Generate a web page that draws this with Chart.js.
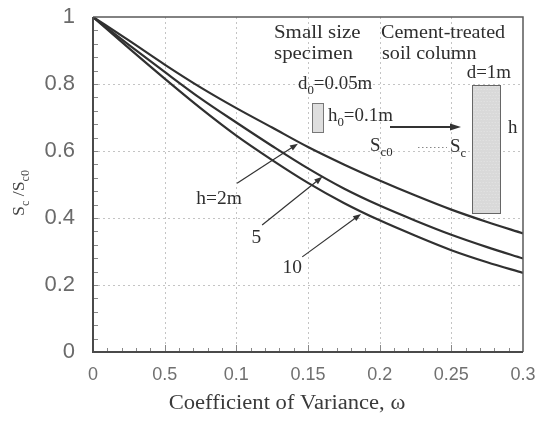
<!DOCTYPE html>
<html><head><meta charset="utf-8">
<script src="https://cdn.jsdelivr.net/npm/chart.js@4.4.1/dist/chart.umd.min.js"></script>
<style>html,body{margin:0;padding:0;background:#fff}#wrap{width:541px;height:423px;position:relative}</style>
</head><body><div id="wrap"><canvas id="c" width="541" height="423"></canvas></div>
<script>
// ---- data ----
const omega = [0, 0.025, 0.05, 0.075, 0.1, 0.125, 0.15, 0.175, 0.2, 0.225, 0.25, 0.275, 0.3];
const ratioH2  = [1, 0.930, 0.858, 0.790, 0.728, 0.670, 0.612, 0.560, 0.512, 0.467, 0.425, 0.388, 0.354];
const ratioH5  = [1, 0.917, 0.836, 0.757, 0.685, 0.615, 0.548, 0.488, 0.437, 0.392, 0.350, 0.313, 0.279];
const ratioH10 = [1, 0.907, 0.816, 0.728, 0.646, 0.573, 0.505, 0.445, 0.393, 0.347, 0.304, 0.268, 0.236];
const seriesLabels = ["h=2m", "5", "10"];
const xTickValues = [0, 0.05, 0.1, 0.15, 0.2, 0.25, 0.3];
const xTickLabels = ["0", "0.5", "0.1", "0.15", "0.2", "0.25", "0.3"];
const yTickValues = [0, 0.2, 0.4, 0.6, 0.8, 1];
const yTickLabels = ["0", "0.2", "0.4", "0.6", "0.8", "1"];
const xTitle = "Coefficient of Variance, \u03c9";

const SERIF = '"Liberation Serif", "DejaVu Serif", serif';
const SANS = '"Liberation Sans", Arial, sans-serif';

function mk(ys) { return omega.map((x, i) => ({x: x, y: ys[i]})); }

function richWidth(ctx, parts, size) {
  let w = 0;
  parts.forEach(p => { ctx.font = (p.sub ? size * 0.68 : size) + 'px ' + SERIF; w += ctx.measureText(p.t).width; });
  return w;
}
function drawRich(ctx, parts, x, y, size, align, sx, color) {
  sx = sx || 1;
  ctx.save();
  ctx.fillStyle = color || '#2e2e2e';
  ctx.textBaseline = 'alphabetic';
  ctx.textAlign = 'left';
  const w = richWidth(ctx, parts, size) * sx;
  let x0 = x;
  if (align === 'center') x0 = x - w / 2; else if (align === 'right') x0 = x - w;
  ctx.translate(x0, y);
  ctx.scale(sx, 1);
  let cx = 0;
  parts.forEach(p => {
    const fs = p.sub ? size * 0.68 : size;
    ctx.font = fs + 'px ' + SERIF;
    ctx.fillText(p.t, cx, p.sub ? size * 0.28 : 0);
    cx += ctx.measureText(p.t).width;
  });
  ctx.restore();
}
function arrowLine(ctx, x1, y1, x2, y2, hl, hw, lw) {
  ctx.save();
  ctx.strokeStyle = '#333'; ctx.fillStyle = '#333'; ctx.lineWidth = lw || 1.2;
  const a = Math.atan2(y2 - y1, x2 - x1);
  ctx.beginPath(); ctx.moveTo(x1, y1); ctx.lineTo(x2 - Math.cos(a) * hl * 0.6, y2 - Math.sin(a) * hl * 0.6); ctx.stroke();
  ctx.beginPath();
  ctx.moveTo(x2, y2);
  ctx.lineTo(x2 - Math.cos(a) * hl - Math.sin(a) * hw, y2 - Math.sin(a) * hl + Math.cos(a) * hw);
  ctx.lineTo(x2 - Math.cos(a) * hl + Math.sin(a) * hw, y2 - Math.sin(a) * hl - Math.cos(a) * hw);
  ctx.closePath(); ctx.fill();
  ctx.restore();
}

const decor = {
  id: 'decor',
  beforeDatasetsDraw(chart) {
    const {ctx, chartArea: ca, scales: {x, y}} = chart;
    ctx.save();
    ctx.strokeStyle = '#c4c4c4'; ctx.lineWidth = 1; ctx.setLineDash([2, 3]);
    xTickValues.slice(1, -1).forEach(v => { const px = Math.round(x.getPixelForValue(v)) + 0.5; ctx.beginPath(); ctx.moveTo(px, ca.top); ctx.lineTo(px, ca.bottom); ctx.stroke(); });
    yTickValues.slice(1, -1).forEach(v => { const py = Math.round(y.getPixelForValue(v)) + 0.5; ctx.beginPath(); ctx.moveTo(ca.left, py); ctx.lineTo(ca.right, py); ctx.stroke(); });
    ctx.setLineDash([]);
    ctx.strokeStyle = '#888'; ctx.lineWidth = 1;
    for (let k = 1; k < 25; k++) { const py = Math.round(y.getPixelForValue(k * 0.04)) + 0.5; ctx.beginPath(); ctx.moveTo(ca.left, py); ctx.lineTo(ca.left + 5, py); ctx.stroke(); }
    for (let k = 1; k < 30; k++) { const px = Math.round(x.getPixelForValue(k * 0.01)) + 0.5; ctx.beginPath(); ctx.moveTo(px, ca.bottom); ctx.lineTo(px, ca.bottom - (k % 5 === 0 ? 7 : 4)); ctx.stroke(); }
    ctx.restore();
  },
  afterDraw(chart) {
    const {ctx, chartArea: ca, scales: {x, y}} = chart;
    const L = ca.left, T = ca.top;
    const X = v => x.getPixelForValue(v), Y = v => y.getPixelForValue(v);
    ctx.save();
    ctx.strokeStyle = '#5a5a5a'; ctx.lineWidth = 1.5;
    ctx.beginPath(); ctx.moveTo(ca.left, ca.top); ctx.lineTo(ca.right, ca.top); ctx.lineTo(ca.right, ca.bottom); ctx.stroke();
    ctx.strokeStyle = '#4a4a4a'; ctx.lineWidth = 2;
    ctx.beginPath(); ctx.moveTo(ca.left, ca.top); ctx.lineTo(ca.left, ca.bottom); ctx.lineTo(ca.right, ca.bottom); ctx.stroke();
    ctx.restore();

    drawRich(ctx, [{t: xTitle}], 287, 409, 20, 'center', 1.13, '#3a3a3a');
    ctx.save();
    ctx.translate(24, 193); ctx.rotate(-Math.PI / 2);
    drawRich(ctx, [{t: 'S'}, {t: 'c', sub: true}, {t: ' /S'}, {t: 'c0', sub: true}], 0, 0, 17, 'center', 1.05, '#444');
    ctx.restore();

    arrowLine(ctx, X(0.1005), Y(0.504), X(0.143), Y(0.622), 8, 3);
    drawRich(ctx, [{t: seriesLabels[0]}], X(0.088), Y(0.46) + 6, 18, 'center', 1.08);
    arrowLine(ctx, X(0.118), Y(0.379), X(0.160), Y(0.523), 8, 3);
    drawRich(ctx, [{t: seriesLabels[1]}], X(0.114), Y(0.343) + 6, 18, 'center', 1.08);
    arrowLine(ctx, X(0.146), Y(0.284), X(0.187), Y(0.412), 8, 3);
    drawRich(ctx, [{t: seriesLabels[2]}], X(0.139), Y(0.254) + 6, 18, 'center', 1.08);

    const ox = L - 93, oy = T - 17;
    drawRich(ctx, [{t: 'Small size'}], 274 + ox, 38 + oy, 19, 'left', 1.1);
    drawRich(ctx, [{t: 'specimen'}], 274 + ox, 59 + oy, 19, 'left', 1.1);
    drawRich(ctx, [{t: 'Cement-treated'}], 381 + ox, 38 + oy, 19, 'left', 1.06);
    drawRich(ctx, [{t: 'soil column'}], 382 + ox, 59 + oy, 19, 'left', 1.06);
    drawRich(ctx, [{t: 'd=1m'}], 511 + ox, 78 + oy, 18, 'right', 1.05);
    drawRich(ctx, [{t: 'd'}, {t: '0', sub: true}, {t: '=0.05m'}], 298 + ox, 89 + oy, 18, 'left', 1.05);
    drawRich(ctx, [{t: 'h'}, {t: '0', sub: true}, {t: '=0.1m'}], 328 + ox, 121 + oy, 18, 'left', 1.05);
    drawRich(ctx, [{t: 'S'}, {t: 'c0', sub: true}], 370 + ox, 151 + oy, 18, 'left', 1.05);
    drawRich(ctx, [{t: 'S'}, {t: 'c', sub: true}], 450 + ox, 152 + oy, 18, 'left', 1.05);
    drawRich(ctx, [{t: 'h'}], 508 + ox, 133 + oy, 18, 'left', 1.05);
    ctx.save();
    ctx.fillStyle = '#dedede'; ctx.strokeStyle = '#777'; ctx.lineWidth = 1;
    ctx.fillRect(312 + ox, 103 + oy, 11, 29); ctx.strokeRect(312.5 + ox, 103.5 + oy, 11, 29);
    ctx.fillStyle = '#d9d9d9'; ctx.strokeStyle = '#666';
    ctx.fillRect(472 + ox, 85 + oy, 28, 128);
    ctx.fillStyle = 'rgba(255,255,255,0.35)';
    for (let yy = 86; yy < 212; yy += 3) for (let xx = 473 + ((yy / 3) % 2); xx < 499; xx += 3) ctx.fillRect(xx + ox, yy + oy, 1, 1);
    ctx.strokeRect(472.5 + ox, 85.5 + oy, 28, 128);
    ctx.strokeStyle = '#888'; ctx.setLineDash([1.5, 2.5]);
    ctx.beginPath(); ctx.moveTo(418 + ox, 147.5 + oy); ctx.lineTo(447 + ox, 147.5 + oy); ctx.stroke();
    ctx.setLineDash([]);
    ctx.restore();
    arrowLine(ctx, 390 + ox, 127 + oy, 461 + ox, 127 + oy, 11, 3.5, 2);
  }
};

const curveStyle = {borderColor: '#303030', borderWidth: 2.2, pointRadius: 0, fill: false, cubicInterpolationMode: 'monotone'};

new Chart(document.getElementById('c'), {
  type: 'line',
  data: {
    datasets: [
      Object.assign({label: seriesLabels[0], data: mk(ratioH2)}, curveStyle),
      Object.assign({label: seriesLabels[1], data: mk(ratioH5)}, curveStyle),
      Object.assign({label: seriesLabels[2], data: mk(ratioH10)}, curveStyle)
    ]
  },
  options: {
    responsive: false, animation: false, devicePixelRatio: 1,
    layout: {padding: {left: 0, top: 17, right: 18, bottom: 0}},
    plugins: {legend: {display: false}, tooltip: {enabled: false}},
    scales: {
      x: {
        type: 'linear', min: 0, max: 0.3,
        afterBuildTicks: s => { s.ticks = xTickValues.map(v => ({value: v})); },
        afterFit: s => { s.height = 71; s.paddingLeft = 0; s.paddingRight = 0; s.paddingTop = 0; s.paddingBottom = 0; },
        ticks: {callback: (v, i) => xTickLabels[i], font: {family: SANS, size: 18}, color: '#707070', padding: 12, maxRotation: 0, autoSkip: false},
        grid: {display: false, drawTicks: false},
        border: {display: false}
      },
      y: {
        type: 'linear', min: 0, max: 1,
        afterBuildTicks: s => { s.ticks = yTickValues.map(v => ({value: v})); },
        afterFit: s => { s.width = 93; s.paddingTop = 0; s.paddingBottom = 0; s.paddingLeft = 0; s.paddingRight = 0; },
        ticks: {callback: (v, i) => yTickLabels[i], font: {family: SANS, size: 22}, color: '#6a6a6a', padding: 18, autoSkip: false},
        grid: {display: false, drawTicks: false},
        border: {display: false}
      }
    }
  },
  plugins: [decor]
});
</script>
</body></html>
